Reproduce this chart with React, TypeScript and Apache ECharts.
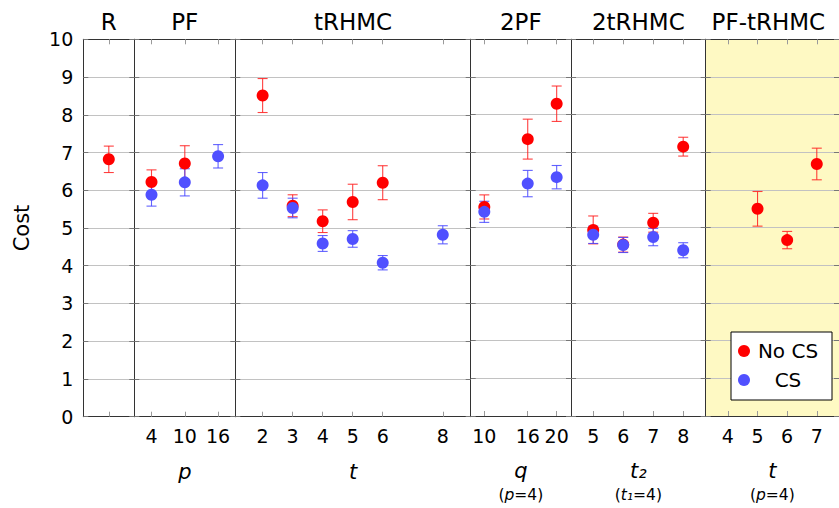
import React, { useEffect, useRef } from "react";
import * as echarts from "echarts";

// ---- Data ----
const sectionTitles = ["R", "PF", "tRHMC", "2PF", "2tRHMC", "PF-tRHMC"];

const rX = [1];
const rNoCS = [6.82];
const rNoCSErr = [0.35];
const rCS: (number | null)[] = [null];
const rCSErr: (number | null)[] = [null];

const pfX = [4, 10, 16];
const pfNoCS = [6.22, 6.71, null];
const pfNoCSErr = [0.32, 0.47, null];
const pfCS = [5.88, 6.21, 6.9];
const pfCSErr = [0.3, 0.36, 0.31];

const trhmcX = [2, 3, 4, 5, 6, 8];
const trhmcNoCS = [8.51, 5.59, 5.18, 5.69, 6.2, null];
const trhmcNoCSErr = [0.45, 0.29, 0.3, 0.47, 0.45, null];
const trhmcCS = [6.13, 5.53, 4.59, 4.71, 4.08, 4.82];
const trhmcCSErr = [0.34, 0.26, 0.21, 0.22, 0.19, 0.24];

const pf2X = [10, 16, 20];
const pf2NoCS = [5.55, 7.35, 8.29];
const pf2NoCSErr = [0.32, 0.53, 0.47];
const pf2CS = [5.42, 6.17, 6.34];
const pf2CSErr = [0.28, 0.35, 0.31];

const trhmc2X = [5, 6, 7, 8];
const trhmc2NoCS = [4.94, 4.55, 5.13, 7.15];
const trhmc2NoCSErr = [0.37, 0.2, 0.25, 0.25];
const trhmc2CS = [4.81, 4.54, 4.75, 4.4];
const trhmc2CSErr = [0.23, 0.2, 0.23, 0.2];

const pftX = [4, 5, 6, 7];
const pftNoCS = [null, 5.5, 4.67, 6.69];
const pftNoCSErr = [null, 0.46, 0.23, 0.42];
const pftCS: (number | null)[] = [null, null, null, null];
const pftCSErr: (number | null)[] = [null, null, null, null];

const yTicks = [0, 1, 2, 3, 4, 5, 6, 7, 8, 9, 10];

// ---- Layout ----
const FONT = "DejaVu Sans";
const TOP = 39.3;
const HEIGHT = 377.4;
const sections = [
  { x: rX, no: rNoCS, noE: rNoCSErr, cs: rCS, csE: rCSErr, left: 83.3, width: 51, min: 0, max: 2, labels: false, name: "" },
  { x: pfX, no: pfNoCS, noE: pfNoCSErr, cs: pfCS, csE: pfCSErr, left: 134.3, width: 101, min: 0.9, max: 19.1, labels: true, name: "{i|p}" },
  { x: trhmcX, no: trhmcNoCS, noE: trhmcNoCSErr, cs: trhmcCS, csE: trhmcCSErr, left: 235.3, width: 235.4, min: 1.09, max: 8.93, labels: true, name: "{i|t}" },
  { x: pf2X, no: pf2NoCS, noE: pf2NoCSErr, cs: pf2CS, csE: pf2CSErr, left: 470.7, width: 100.3, min: 8.12, max: 21.98, labels: true, name: "{i|q}\n{s|(}{si|p}{s|=4)}" },
  { x: trhmc2X, no: trhmc2NoCS, noE: trhmc2NoCSErr, cs: trhmc2CS, csE: trhmc2CSErr, left: 571, width: 134.7, min: 4.26, max: 8.75, labels: true, name: "{i|t₂}\n{s|(}{si|t₁}{s|=4)}" },
  { x: pftX, no: pftNoCS, noE: pftNoCSErr, cs: pftCS, csE: pftCSErr, left: 705.7, width: 135, min: 3.25, max: 7.75, labels: true, name: "{i|t}\n{s|(}{si|p}{s|=4)}" },
];

const RED = "#ff0000";
const BLUE = "#5050ff";
const RED_ERR = "rgba(255,30,30,0.85)";
const BLUE_ERR = "rgba(70,70,255,0.85)";

function pts(xs: number[], ys: (number | null)[]) {
  const out: number[][] = [];
  xs.forEach((x, j) => {
    const y = ys[j];
    if (y != null) out.push([x, y]);
  });
  return out;
}
function errPts(xs: number[], ys: (number | null)[], es: (number | null)[]) {
  const out: number[][] = [];
  xs.forEach((x, j) => {
    const y = ys[j];
    const e = es[j];
    if (y != null && e != null) out.push([x, y, e]);
  });
  return out;
}

function errRender(color: string) {
  return (params: any, api: any) => {
    const x = api.value(0);
    const y = api.value(1);
    const e = api.value(2);
    const top = api.coord([x, y + e]);
    const bot = api.coord([x, y - e]);
    const hw = 5;
    const style = { stroke: color, lineWidth: 1.1, fill: "none" };
    return {
      type: "group",
      children: [
        { type: "line", shape: { x1: top[0], y1: top[1], x2: bot[0], y2: bot[1] }, style },
        { type: "line", shape: { x1: top[0] - hw, y1: top[1], x2: top[0] + hw, y2: top[1] }, style },
        { type: "line", shape: { x1: bot[0] - hw, y1: bot[1], x2: bot[0] + hw, y2: bot[1] }, style },
      ],
    };
  };
}

export default function App() {
  const ref = useRef<HTMLDivElement>(null);
  useEffect(() => {
    if (!ref.current) return;
    const chart = echarts.init(ref.current, undefined, { renderer: "svg" });

    const grid: any[] = [];
    const xAxis: any[] = [];
    const yAxis: any[] = [];
    const series: any[] = [];
    const borderLine = { show: true, onZero: false, lineStyle: { color: "#333", width: 1 } };

    sections.forEach((s, i) => {
      grid.push({
        left: s.left,
        top: TOP,
        width: s.width,
        height: HEIGHT,
        show: i === 5,
        backgroundColor: i === 5 ? "#fef9c3" : "transparent",
        borderWidth: 0,
        containLabel: false,
      });
      // bottom axis
      xAxis.push({
        type: "value",
        gridIndex: i,
        position: "bottom",
        min: s.min,
        max: s.max,
        axisLine: borderLine,
        splitLine: { show: false },
        axisTick: { show: true, inside: true, length: 5, customValues: s.x, lineStyle: { color: "#9a9a9a" } },
        axisLabel: {
          show: s.labels,
          customValues: s.x,
          margin: 10,
          fontSize: 19,
          color: "#000",
          fontFamily: FONT,
        },
        name: s.name,
        nameLocation: "middle",
        nameGap: 42,
        nameTextStyle: {
          color: "#000",
          rich: {
            i: { fontFamily: FONT, fontStyle: "italic", fontSize: 21, lineHeight: 26, color: "#000" },
            s: { fontFamily: FONT, fontSize: 15.5, lineHeight: 22, color: "#000" },
            si: { fontFamily: FONT, fontStyle: "italic", fontSize: 15.5, lineHeight: 22, color: "#000" },
          },
        },
      });
      // top axis
      xAxis.push({
        type: "value",
        gridIndex: i,
        position: "top",
        min: s.min,
        max: s.max,
        axisLine: borderLine,
        splitLine: { show: false },
        axisTick: { show: true, inside: true, length: 5, customValues: s.x, lineStyle: { color: "#9a9a9a" } },
        axisLabel: { show: false },
        name: sectionTitles[i],
        nameLocation: "middle",
        nameGap: 6,
        nameTextStyle: {
          fontSize: 23,
          fontFamily: FONT,
          fontWeight: "normal",
          color: "#000",
          padding: i === 5 ? [0, 8, 0, 0] : 0,
        },
      });
      // left y axis
      yAxis.push({
        type: "value",
        gridIndex: i,
        position: "left",
        min: 0,
        max: 10,
        interval: 1,
        axisLine: borderLine,
        axisTick: { show: true, inside: true, length: 5, lineStyle: { color: "#777" } },
        axisLabel: {
          show: i === 0,
          margin: 10,
          fontSize: 19,
          color: "#000",
          fontFamily: FONT,
          customValues: yTicks,
        },
        splitLine: { show: true, lineStyle: { color: "#c2c2c2", width: 1 } },
        name: i === 0 ? "Cost" : "",
        nameLocation: "middle",
        nameRotate: 90,
        nameGap: 51,
        nameTextStyle: { fontSize: 21, fontFamily: FONT, color: "#000" },
      });
      // right y axis
      yAxis.push({
        type: "value",
        gridIndex: i,
        position: "right",
        min: 0,
        max: 10,
        interval: 1,
        axisLine: borderLine,
        axisTick: { show: true, inside: true, length: 5, lineStyle: { color: "#777" } },
        axisLabel: { show: false },
        splitLine: { show: false },
      });

      const noErr = errPts(s.x, s.no, s.noE);
      const csErr = errPts(s.x, s.cs, s.csE);
      const noPts = pts(s.x, s.no);
      const csPts = pts(s.x, s.cs);

      series.push({
        type: "custom",
        name: "No CS err",
        xAxisIndex: 2 * i,
        yAxisIndex: 2 * i,
        renderItem: errRender(RED_ERR),
        encode: { x: 0, y: 1 },
        data: noErr,
        silent: true,
      });
      series.push({
        type: "scatter",
        name: "No CS",
        xAxisIndex: 2 * i,
        yAxisIndex: 2 * i,
        symbol: "circle",
        symbolSize: 12,
        itemStyle: { color: RED, opacity: 1 },
        data: noPts,
      });
      series.push({
        type: "custom",
        name: "CS err",
        xAxisIndex: 2 * i,
        yAxisIndex: 2 * i,
        renderItem: errRender(BLUE_ERR),
        encode: { x: 0, y: 1 },
        data: csErr,
        silent: true,
      });
      series.push({
        type: "scatter",
        name: "CS",
        xAxisIndex: 2 * i,
        yAxisIndex: 2 * i,
        symbol: "circle",
        symbolSize: 12,
        itemStyle: { color: BLUE, opacity: 1 },
        data: csPts,
      });
    });

    chart.setOption({
      animation: false,
      textStyle: { fontFamily: FONT },
      grid,
      xAxis,
      yAxis,
      series,
      legend: {
        data: ["No CS", "CS"],
        orient: "vertical",
        left: 731,
        top: 332,
        icon: "circle",
        itemWidth: 12,
        itemHeight: 12,
        itemGap: 9,
        padding: [9, 11, 10, 7],
        borderColor: "#000",
        borderWidth: 1,
        backgroundColor: "#fff",
        selectedMode: false,
        formatter: "{a|{name}}",
        itemStyle: { opacity: 1 },
        textStyle: {
          fontFamily: FONT,
          fontSize: 20,
          color: "#000",
          rich: { a: { width: 66, align: "center", fontSize: 20, lineHeight: 22, fontFamily: FONT, color: "#000" } },
        },
      },
    });
    return () => chart.dispose();
  }, []);
  return (
    <div
      ref={ref}
      style={{ position: "absolute", left: 0, top: 0, width: 839, height: 508, background: "#fff" }}
    />
  );
}
